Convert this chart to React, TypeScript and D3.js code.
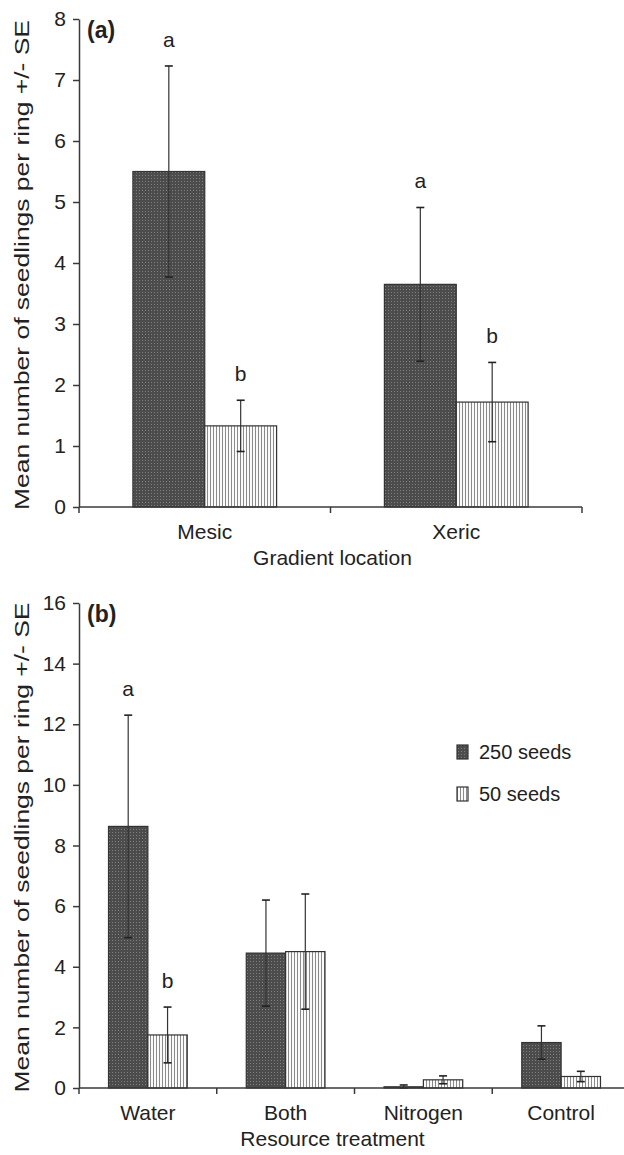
import * as d3 from "d3";
import React, { useEffect, useRef } from "react";

// panel (a): gradient location
const gradientCats = ["Mesic", "Xeric"];
const gradient250 = [5.5, 3.65];
const gradient250Se = [1.73, 1.26];
const gradient50 = [1.33, 1.72];
const gradient50Se = [0.42, 0.65];
const gradientLetters250 = ["a", "a"];
const gradientLetters50 = ["b", "b"];
const gradientTicks = [0, 1, 2, 3, 4, 5, 6, 7, 8];

// panel (b): resource treatment
const resourceCats = ["Water", "Both", "Nitrogen", "Control"];
const resource250 = [8.63, 4.45, 0.04, 1.5];
const resource250Se = [3.67, 1.75, 0.06, 0.55];
const resource50 = [1.75, 4.5, 0.27, 0.38];
const resource50Se = [0.92, 1.9, 0.13, 0.17];
const resourceLetters250 = ["a", "", "", ""];
const resourceLetters50 = ["b", "", "", ""];
const resourceTicks = [0, 2, 4, 6, 8, 10, 12, 14, 16];

const seriesNames = ["250 seeds", "50 seeds"];
const yTitle = "Mean number of seedlings per ring +/- SE";

const FONT = "'Liberation Sans', Arial, sans-serif";
const AXIS = "#3a3a3a";

interface PanelOpts {
  tag: string;
  cats: string[];
  v250: number[];
  se250: number[];
  v50: number[];
  se50: number[];
  let250: string[];
  let50: string[];
  ticks: number[];
  yMax: number;
  top: number;
  bottom: number;
  right: number;
  xTitle: string;
}

const App: React.FC = () => {
  const ref = useRef<SVGSVGElement | null>(null);

  useEffect(() => {
    if (!ref.current) return;
    const svg = d3.select(ref.current);
    svg.selectAll("*").remove();

    const defs = svg.append("defs");
    // dark dotted fill for 250 seeds
    const dark = defs
      .append("pattern")
      .attr("id", "dark")
      .attr("patternUnits", "userSpaceOnUse")
      .attr("width", 3)
      .attr("height", 3);
    dark.append("rect").attr("width", 3).attr("height", 3).attr("fill", "#4c4c4c");
    dark.append("rect").attr("x", 1).attr("y", 1).attr("width", 1).attr("height", 1).attr("fill", "#808080");
    // vertical stripes for 50 seeds
    const light = defs
      .append("pattern")
      .attr("id", "light")
      .attr("patternUnits", "userSpaceOnUse")
      .attr("width", 3)
      .attr("height", 3);
    light.append("rect").attr("width", 3).attr("height", 3).attr("fill", "#fafafa");
    light.append("rect").attr("x", 0).attr("width", 1).attr("height", 3).attr("fill", "#8a8a8a");

    const left = 79;

    const drawPanel = (o: PanelOpts) => {
      const g = svg.append("g");
      const y = d3.scaleLinear().domain([0, o.yMax]).range([o.bottom, o.top]);
      const x = d3.scaleBand().domain(o.cats).range([left, o.right]).padding(0);
      const sub = d3
        .scaleBand()
        .domain(seriesNames)
        .range([0, x.bandwidth()])
        .paddingInner(0)
        .paddingOuter(0.75);

      // bars
      const series = [
        { name: seriesNames[0], v: o.v250, se: o.se250, lt: o.let250, fill: "url(#dark)" },
        { name: seriesNames[1], v: o.v50, se: o.se50, lt: o.let50, fill: "url(#light)" },
      ];
      series.forEach((s) => {
        o.cats.forEach((c, i) => {
          const x0 = (x(c) as number) + (sub(s.name) as number);
          const w = sub.bandwidth();
          g.append("rect")
            .attr("x", x0)
            .attr("y", y(s.v[i]))
            .attr("width", w)
            .attr("height", y(0) - y(s.v[i]))
            .attr("fill", s.fill)
            .attr("stroke", "#333")
            .attr("stroke-width", 1.2);
        });
      });

      // error bars + letters
      series.forEach((s) => {
        o.cats.forEach((c, i) => {
          const cx = (x(c) as number) + (sub(s.name) as number) + sub.bandwidth() / 2;
          const hi = y(s.v[i] + s.se[i]);
          const lo = y(Math.max(0, s.v[i] - s.se[i]));
          g.append("line")
            .attr("x1", cx).attr("x2", cx)
            .attr("y1", hi).attr("y2", lo)
            .attr("stroke", "#333").attr("stroke-width", 1.2);
          [hi, lo].forEach((yy) =>
            g.append("line")
              .attr("x1", cx - 4).attr("x2", cx + 4)
              .attr("y1", yy).attr("y2", yy)
              .attr("stroke", "#222").attr("stroke-width", 1.6)
          );
          if (s.lt[i]) {
            g.append("text")
              .attr("x", cx)
              .attr("y", hi - 19)
              .attr("text-anchor", "middle")
              .attr("font-size", 21)
              .attr("font-family", FONT)
              .attr("fill", "#222")
              .text(s.lt[i]);
          }
        });
      });

      // y axis
      const yAxis = g
        .append("g")
        .attr("transform", `translate(${left},0)`)
        .call(d3.axisLeft(y).tickValues(o.ticks).tickSize(6).tickSizeOuter(0).tickPadding(7));
      yAxis.select(".domain").attr("stroke", AXIS).attr("stroke-width", 1.5);
      yAxis.selectAll(".tick line").attr("stroke", AXIS).attr("stroke-width", 1.5);
      yAxis
        .selectAll(".tick text")
        .attr("font-size", 21)
        .attr("font-family", FONT)
        .attr("fill", "#222");

      // x axis: baseline with ticks at category boundaries
      g.append("line")
        .attr("x1", left).attr("x2", o.right)
        .attr("y1", y(0)).attr("y2", y(0))
        .attr("stroke", AXIS).attr("stroke-width", 1.5);
      const bounds = o.cats.map((c) => x(c) as number).concat([o.right]);
      bounds.forEach((bx) =>
        g.append("line")
          .attr("x1", bx).attr("x2", bx)
          .attr("y1", y(0)).attr("y2", y(0) + 6)
          .attr("stroke", AXIS).attr("stroke-width", 1.5)
      );
      o.cats.forEach((c) =>
        g.append("text")
          .attr("x", (x(c) as number) + x.bandwidth() / 2)
          .attr("y", y(0) + 32)
          .attr("text-anchor", "middle")
          .attr("font-size", 21)
          .attr("font-family", FONT)
          .attr("fill", "#222")
          .text(c)
      );
      g.append("text")
        .attr("x", (left + Math.min(o.right, 582)) / 2 + 2)
        .attr("y", y(0) + 58)
        .attr("text-anchor", "middle")
        .attr("font-size", 21)
        .attr("font-family", FONT)
        .attr("fill", "#222")
        .text(o.xTitle);

      // y title
      const midY = (o.top + o.bottom) / 2 + 2;
      g.append("text")
        .attr("transform", `translate(29,${midY}) rotate(-90)`)
        .attr("text-anchor", "middle")
        .attr("font-size", 21)
        .attr("font-family", FONT)
        .attr("fill", "#222")
        .attr("textLength", 490)
        .attr("lengthAdjust", "spacingAndGlyphs")
        .text(yTitle);

      // panel tag
      g.append("text")
        .attr("x", 87)
        .attr("y", o.top + 19)
        .attr("font-size", 23)
        .attr("font-weight", "bold")
        .attr("font-family", FONT)
        .attr("fill", "#222")
        .text(o.tag);
    };

    drawPanel({
      tag: "(a)",
      cats: gradientCats,
      v250: gradient250,
      se250: gradient250Se,
      v50: gradient50,
      se50: gradient50Se,
      let250: gradientLetters250,
      let50: gradientLetters50,
      ticks: gradientTicks,
      yMax: 8,
      top: 19,
      bottom: 507,
      right: 582,
      xTitle: "Gradient location",
    });

    drawPanel({
      tag: "(b)",
      cats: resourceCats,
      v250: resource250,
      se250: resource250Se,
      v50: resource50,
      se50: resource50Se,
      let250: resourceLetters250,
      let50: resourceLetters50,
      ticks: resourceTicks,
      yMax: 16,
      top: 603,
      bottom: 1088,
      right: 630,
      xTitle: "Resource treatment",
    });

    // legend
    const legend = svg.append("g").attr("transform", "translate(457,0)");
    const fills = ["url(#dark)", "url(#light)"];
    const legendY = d3.scalePoint().domain(seriesNames).range([752, 794]);
    seriesNames.forEach((n, i) => {
      const ly = legendY(n) as number;
      legend.append("rect")
        .attr("x", 0).attr("y", ly - 7)
        .attr("width", 11).attr("height", 14)
        .attr("fill", fills[i])
        .attr("stroke", "#333").attr("stroke-width", 1.2);
      legend.append("text")
        .attr("x", 22).attr("y", ly + 7)
        .attr("font-size", 20)
        .attr("font-family", FONT)
        .attr("fill", "#222")
        .text(n);
    });
  }, []);

  return (
    <svg
      ref={ref}
      width={624}
      height={1155}
      style={{ position: "absolute", left: 0, top: 0, background: "#fff" }}
    />
  );
};

export default App;
